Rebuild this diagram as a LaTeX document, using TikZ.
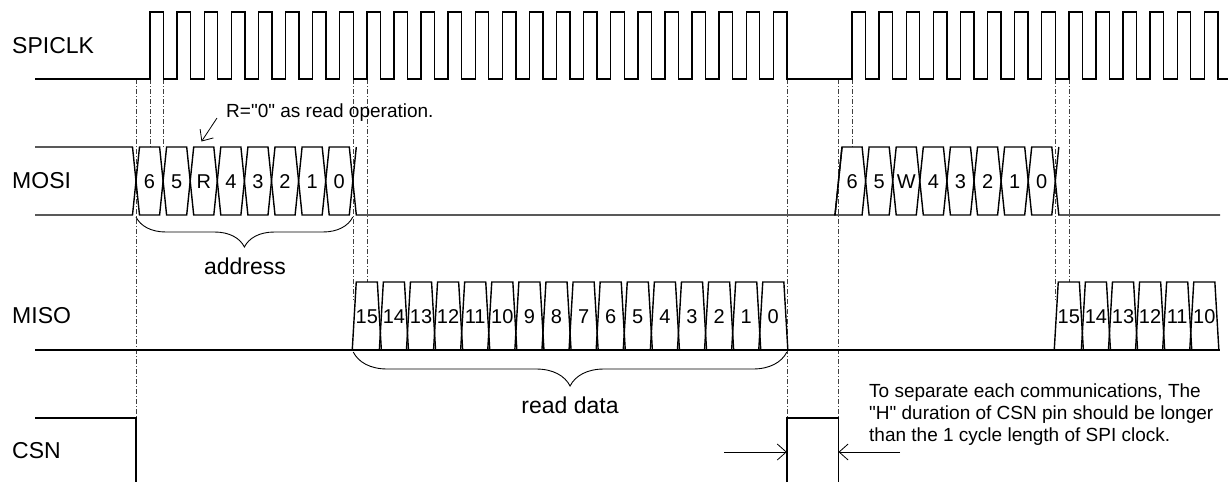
\documentclass[tikz,border=0pt]{standalone}
\usepackage{fontspec}
\setmainfont{Liberation Sans}[Ligatures=TeXOff]
\usetikzlibrary{arrows.meta,decorations.pathreplacing}
\begin{document}
\begin{tikzpicture}[x=1pt,y=-1pt,
  sig/.style={line width=1.4pt},
  guide/.style={line width=0.6pt, black!75, dash pattern=on 5pt off 2pt on 1pt off 2pt},
  lbl/.style={font=\fontsize{23}{27}\selectfont, anchor=west, inner sep=0pt},
  bit/.style={font=\fontsize{20}{24}\selectfont, inner sep=0pt},
  note/.style={font=\fontsize{19}{22}\selectfont, anchor=base west, inner sep=0pt},
  brc/.style={decorate, decoration={brace, mirror, amplitude=#1}, line width=0.9pt},
  barb/.style={-{Straight Barb[length=9pt,width=16pt]}, line width=0.8pt}]
\useasboundingbox (0,0) rectangle (1228,482);
\def\T{27.1}
% ---------- labels
\node[lbl] (lclk) at (12,46) {SPICLK};
\node[lbl] (lmosi) at (12,181) {MOSI};
\node[lbl] (lmiso) at (12,316) {MISO};
\node[lbl] (lcsn) at (12,451) {CSN};
% ---------- guide lines
\draw[guide] (136,79) -- (136,418);
\draw[guide] (150,79) -- (150,147);
\draw[guide] (163.55,79) -- (163.55,147);
\draw[guide] (353.25,79) -- (353.25,300);
\draw[guide] (366.8,79) -- (366.8,282);
\draw[guide] (786.85,79) -- (786.85,418);
\draw[guide] (838.5,79) -- (838.5,418);
\draw[guide] (852,79) -- (852,147);
\draw[guide] (1055.25,79) -- (1055.25,300);
\draw[guide] (1068.8,79) -- (1068.8,282);
% ---------- SPICLK
\draw[sig] (35,79)
  foreach \k in {0,...,23}{ -- ({150+\k*\T},79) -- ({150+\k*\T},12) -- ({163.55+\k*\T},12) -- ({163.55+\k*\T},79) }
  -- (852,79)
  foreach \k in {0,...,13}{ -- ({852+\k*\T},79) -- ({852+\k*\T},12) -- ({865.55+\k*\T},12) -- ({865.55+\k*\T},79) }
  -- (1228,79);
% ---------- MOSI burst 1
\draw[sig] (35,147) -- (132.5,147) -- (136,181) -- (132.5,215) -- (35,215);
\foreach \i in {0,...,7}{
  \pgfmathsetmacro\a{136+\i*\T}
  \pgfmathsetmacro\b{136+(\i+1)*\T}
  \draw[sig] (\a,181) -- ({\a+3.5},147) -- ({\b-3.5},147) -- (\b,181) -- ({\b-3.5},215) -- ({\a+3.5},215) -- cycle;
}
\draw[sig] ({136+8*\T+3.5},147) -- ({136+8*\T},181) -- ({136+8*\T+3.5},215) -- (835,215) -- (842,147);
\foreach \t [count=\i from 0] in {6,5,R,4,3,2,1,0}
  \node[bit] (ma\i) at ({136+(\i+0.5)*\T},182) {\t};
% ---------- MOSI burst 2
\draw[sig] (835,215) -- (842,147) -- ({838.5+\T-3.5},147) -- ({838.5+\T},181) -- ({838.5+\T-3.5},215) -- cycle;
\foreach \i in {1,...,7}{
  \pgfmathsetmacro\a{838.5+\i*\T}
  \pgfmathsetmacro\b{838.5+(\i+1)*\T}
  \draw[sig] (\a,181) -- ({\a+3.5},147) -- ({\b-3.5},147) -- (\b,181) -- ({\b-3.5},215) -- ({\a+3.5},215) -- cycle;
}
\draw[sig] ({838.5+8*\T+3.5},147) -- ({838.5+8*\T},181) -- ({838.5+8*\T+3.5},215) -- (1220,215);
\foreach \t [count=\i from 0] in {6,5,W,4,3,2,1,0}
  \node[bit] (mb\i) at ({838.5+(\i+0.5)*\T},182) {\t};
% ---------- MISO
\draw[sig] (35,350) -- (1220,350);
\foreach \i in {0,...,15}{
  \pgfmathsetmacro\a{353.25+\i*\T}
  \pgfmathsetmacro\b{353.25+(\i+1)*\T}
  \draw[sig] ({\a-1},350) -- ({\a+3},282) -- ({\b-3},282) -- ({\b+1},350);
}
\foreach \t [count=\i from 0] in {15,14,...,0}
  \node[bit] (sa\i) at ({353.25+(\i+0.5)*\T},317) {\t};
\foreach \i in {0,...,5}{
  \pgfmathsetmacro\a{1055.25+\i*\T}
  \pgfmathsetmacro\b{1055.25+(\i+1)*\T}
  \draw[sig] ({\a-1},350) -- ({\a+3},282) -- ({\b-3},282) -- ({\b+1},350);
}
\foreach \t [count=\i from 0] in {15,14,...,10}
  \node[bit] (sb\i) at ({1055.25+(\i+0.5)*\T},317) {\t};
% ---------- CSN
\draw[sig] (35,418) -- (136,418) -- (136,482);
\draw[sig] (786.85,482) -- (786.85,418) -- (838.5,418) -- (838.5,482);
% ---------- braces
\draw[brc=30] (136,217) -- (352.8,217);
\node[lbl, anchor=center] (addr) at (245,266) {address};
\draw[brc=34] (353.25,352) -- (786.85,352);
\node[lbl, anchor=center] (rdata) at (570,405) {read data};
% ---------- annotations
\node[note] (rnote) at (226,117) {R="0" as read operation.};
\coordinate (rtip) at (201.5,141.5);
\draw[barb] (217,118) -- (rtip);
\node[note] (n1) at (869,397) {To separate each communications, The};
\node[note] (n2) at (869,419) {"H" duration of CSN pin should be longer};
\node[note] (n3) at (869,441) {than the 1 cycle length of SPI clock.};
\coordinate (la) at (724,452);
\coordinate (ra) at (900,452);
\coordinate (lt) at (786.85,452);
\coordinate (rt) at (838.5,452);
\draw[barb] (la) -- (lt);
\draw[barb] (ra) -- (rt);
\end{tikzpicture}
\end{document}
